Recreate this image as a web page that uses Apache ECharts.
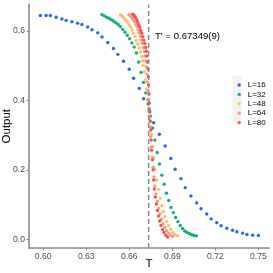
<!DOCTYPE html>
<html><head><meta charset="utf-8">
<script src="https://cdn.jsdelivr.net/npm/echarts@6/dist/echarts.min.js"></script>
<style>html,body{margin:0;padding:0;background:#fff}#c{width:273px;height:273px}</style>
</head><body><div id="c"></div>
<script>
const seriesNames = ['L=16','L=32','L=48','L=64','L=80'];
const colors = ['#1f5fe0','#0aa86c','#f9c063','#f8967c','#f44848'];
const xTicks = [0.60,0.63,0.66,0.69,0.72,0.75];
const yTicks = [0.0,0.2,0.4,0.6];
const Tc = 0.67349;
const yRange = [-0.025, 0.677];

const T16 = [0.598,0.602,0.605,0.609,0.613,0.616,0.620,0.624,0.627,0.631,0.634,0.638,0.641,0.645,0.649,0.652,0.656,0.660,0.663,0.667,0.670,0.674,0.677,0.681,0.685,0.689,0.692,0.696,0.699,0.703,0.707,0.710,0.714,0.717,0.721,0.724,0.728,0.732,0.735,0.739,0.742,0.746,0.750];
const V16 = [0.645,0.645,0.645,0.640,0.635,0.631,0.627,0.623,0.619,0.612,0.604,0.595,0.583,0.567,0.550,0.533,0.513,0.490,0.464,0.435,0.405,0.373,0.336,0.303,0.269,0.233,0.202,0.175,0.149,0.125,0.105,0.088,0.073,0.059,0.048,0.039,0.032,0.026,0.022,0.018,0.014,0.012,0.011];

const T32 = [0.6410,0.6426,0.6442,0.6458,0.6474,0.6490,0.6506,0.6522,0.6538,0.6554,0.6570,0.6586,0.6602,0.6618,0.6634,0.6650,0.6666,0.6682,0.6699,0.6715,0.6731,0.6747,0.6763,0.6779,0.6795,0.6811,0.6827,0.6843,0.6859,0.6875,0.6891,0.6907,0.6923,0.6939,0.6955,0.6971,0.6987,0.7003,0.7020,0.7036,0.7052,0.7068];
const V32 = [0.647,0.644,0.640,0.637,0.633,0.629,0.624,0.619,0.613,0.605,0.597,0.588,0.578,0.566,0.554,0.537,0.511,0.481,0.452,0.422,0.390,0.355,0.321,0.286,0.250,0.217,0.185,0.159,0.133,0.112,0.092,0.077,0.063,0.051,0.040,0.031,0.024,0.020,0.016,0.013,0.011,0.010];

const T48 = [0.6540,0.6551,0.6563,0.6575,0.6586,0.6598,0.6610,0.6619,0.6628,0.6640,0.6649,0.6659,0.6668,0.6677,0.6687,0.6692,0.6698,0.6706,0.6713,0.6719,0.6726,0.6733,0.6745,0.6755,0.6764,0.6771,0.6780,0.6791,0.6805,0.6816,0.6828,0.6837,0.6849,0.6861,0.6875,0.6889,0.6903,0.6919,0.6938];
const V48 = [0.647,0.643,0.638,0.632,0.626,0.618,0.611,0.603,0.594,0.584,0.573,0.563,0.551,0.540,0.527,0.514,0.502,0.483,0.459,0.433,0.401,0.370,0.338,0.303,0.268,0.234,0.203,0.171,0.144,0.118,0.097,0.080,0.065,0.051,0.039,0.029,0.020,0.014,0.010];

const T64 = [0.6598,0.6607,0.6617,0.6626,0.6635,0.6645,0.6654,0.6661,0.6668,0.6677,0.6684,0.6691,0.6698,0.6705,0.6710,0.6715,0.6719,0.6724,0.6727,0.6731,0.6734,0.6738,0.6741,0.6746,0.6750,0.6755,0.6761,0.6766,0.6773,0.6779,0.6786,0.6796,0.6805,0.6814,0.6825,0.6835,0.6847,0.6860,0.6874,0.6889,0.6905];
const V64 = [0.647,0.644,0.640,0.634,0.628,0.620,0.613,0.604,0.595,0.586,0.575,0.565,0.553,0.542,0.528,0.514,0.497,0.476,0.453,0.430,0.404,0.378,0.352,0.324,0.295,0.266,0.237,0.208,0.180,0.154,0.131,0.110,0.090,0.073,0.058,0.045,0.034,0.025,0.018,0.012,0.008];

const T80 = [0.6624,0.6633,0.6642,0.6652,0.6659,0.6666,0.6673,0.6680,0.6687,0.6694,0.6701,0.6708,0.6715,0.6719,0.6724,0.6727,0.6731,0.6733,0.6735,0.6738,0.6740,0.6743,0.6746,0.6750,0.6753,0.6756,0.6761,0.6766,0.6770,0.6775,0.6782,0.6789,0.6796,0.6804,0.6812,0.6821,0.6832,0.6842,0.6854,0.6867];
const V80 = [0.649,0.646,0.640,0.633,0.626,0.618,0.611,0.602,0.594,0.584,0.574,0.564,0.553,0.542,0.528,0.511,0.491,0.468,0.445,0.419,0.393,0.367,0.341,0.315,0.286,0.257,0.229,0.200,0.171,0.145,0.122,0.102,0.083,0.067,0.053,0.040,0.028,0.020,0.012,0.007];

const Ts = [T16,T32,T48,T64,T80];
const Vs = [V16,V32,V48,V64,V80];

const chart = echarts.init(document.getElementById('c'), null, {renderer:'canvas'});
const font = 'Liberation Sans, Arial, sans-serif';
const axisGray = '#8a8a8a';

const scatterSeries = seriesNames.map((n,i)=>({
  name: n, type:'scatter', symbol:'circle', symbolSize:3.4,
  itemStyle:{color:colors[i], opacity:0.95},
  data: Ts[i].map((t,j)=>[t, Vs[i][j]]),
  z: 2+i, silent:true, animation:false
}));

chart.setOption({
  animation:false,
  grid:{left:29, right:4, top:4.4, bottom:25, containLabel:false, outerBoundsMode:'none'},
  xAxis:{
    type:'value', min:0.5901, max:0.7574,
    name:'T', nameLocation:'middle', nameGap:10, nameMoveOverlap:false,
    nameTextStyle:{color:'#000', fontSize:11.5, fontFamily:font},
    axisLine:{show:true, onZero:false, lineStyle:{color:axisGray, width:1.6}},
    axisTick:{show:true, length:2.5, customValues:xTicks, lineStyle:{color:axisGray, width:1}},
    axisLabel:{customValues:xTicks, color:'#4d4d4d', fontSize:8.6, fontFamily:font, margin:4,
      formatter:v=>v.toFixed(2)},
    splitLine:{show:false}
  },
  yAxis:{
    type:'value', min:yRange[0], max:yRange[1],
    name:'Output', nameLocation:'middle', nameGap:16, nameRotate:90, nameMoveOverlap:false,
    nameTextStyle:{color:'#000', fontSize:11.5, fontFamily:font},
    axisLine:{show:true, onZero:false, lineStyle:{color:axisGray, width:1.6}},
    axisTick:{show:true, length:2.5, customValues:yTicks, lineStyle:{color:axisGray, width:1}},
    axisLabel:{customValues:yTicks, color:'#4d4d4d', fontSize:8.6, fontFamily:font, margin:4,
      formatter:v=>v.toFixed(1)},
    splitLine:{show:false}
  },
  legend:{
    orient:'vertical', left:232.5, top:75.3,
    itemWidth:9, itemHeight:3.4, itemGap:0,
    icon:'circle',
    textStyle:{fontSize:8, lineHeight:9.4, color:'#000', fontFamily:font, padding:[0,0,0,-1]},
    data:seriesNames, selectedMode:false
  },
  graphic:[
    {type:'rect', left:232.5, top:75.3, shape:{width:9, height:47}, style:{fill:'#f2f2f2'}, z:-1, silent:true},
    {type:'text', left:155, top:31.5, style:{text:"T' = 0.67349(9)", fontSize:9.6, fontFamily:font, fill:'#000'}, silent:true}
  ],
  series:[
    ...scatterSeries,
    {type:'line', name:'Tc', data:[[Tc, yRange[0]],[Tc, yRange[1]]], symbol:'none', silent:true, z:10,
      lineStyle:{color:'#8c8c8c', type:[5,3], width:1.5}}
  ]
});
</script></body></html>
